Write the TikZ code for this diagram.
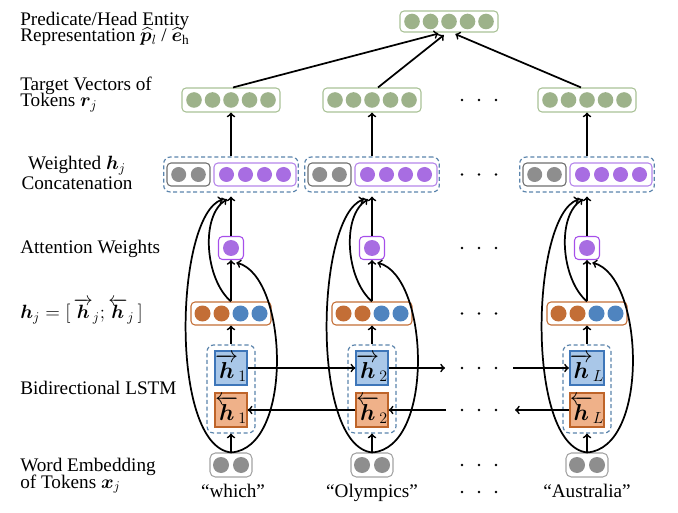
\documentclass[tikz,border=0pt]{standalone}
\usepackage{amsmath,bm}
\usepackage{fontspec}
\setmainfont{Liberation Serif}
\definecolor{dotgreen}{HTML}{9DB28A}
\definecolor{boxgreen}{HTML}{A9C196}
\definecolor{dotgray}{HTML}{8E8E8E}
\definecolor{boxgray}{HTML}{6E6E6E}
\definecolor{boxlgray}{HTML}{A3A3A3}
\definecolor{dotpurple}{HTML}{A86DE2}
\definecolor{boxpurple}{HTML}{B585EA}
\definecolor{attpurple}{HTML}{A64FEA}
\definecolor{dotorange}{HTML}{C36E36}
\definecolor{dotblue}{HTML}{4F84BF}
\definecolor{fwfill}{HTML}{A9C7E8}
\definecolor{fwline}{HTML}{3E76B9}
\definecolor{bwfill}{HTML}{EFB189}
\definecolor{bwline}{HTML}{BE6429}
\definecolor{dashblue}{HTML}{5B84AC}
\tikzset{
  lab/.style={inner sep=0pt, font={\fontsize{14.4}{12.2}\selectfont\lineskiplimit=-20pt}},
  vbox/.style={draw, rounded corners=3pt, line width=0.8pt, inner sep=0pt},
  grp/.style={draw=dashblue, dash pattern=on 3pt off 2pt, rounded corners=5pt, line width=0.9pt, inner sep=0pt},
  hbox/.style={draw, line width=1.4pt, inner sep=0pt, minimum width=20pt, minimum height=25.5pt, font=\fontsize{17.28}{17.28}\selectfont},
  arr/.style={->, line width=1.3pt},
}
\begin{document}
\begin{tikzpicture}[x=0.75pt, y=-0.75pt]
\useasboundingbox (0,0) rectangle (678,513);
% row labels
\node[lab, anchor=base west, align=left] (lrep) at (20,42) {Predicate/Head Entity\\Representation $\widehat{\bm p}_l$ / $\widehat{\bm e}_\mathrm{h}$};
\node[lab, anchor=base west, align=left] (ltgt) at (20,107) {Target Vectors of\\Tokens $\bm r_j$};
\node[lab, anchor=base, align=center] (lcat) at (77,190) {Weighted $\bm h_j$\\[3pt]Concatenation};
\node[lab, anchor=base west] (latt) at (20,254) {Attention Weights};
\node[lab, anchor=base west] (lhj) at (20,319) {$\bm h_j = [\,\overrightarrow{\bm h}_j;\overleftarrow{\bm h}_j\,]$};
\node[lab, anchor=base west] (llstm) at (20,394) {Bidirectional LSTM};
\node[lab, anchor=base west, align=left] (lemb) at (20,488) {Word Embedding\\of Tokens $\bm x_j$};
% output vector
\node[vbox, draw=boxgreen, minimum width=73.5pt, minimum height=15.75pt] (rep) at (449,21.5) {};
\foreach \k in {-2,...,2} \fill[dotgreen] ({449+\k*18.5},21.5) circle (7.8);
% one column per token
\foreach \c/\n/\s in {231/1/1, 372/2/2, 587/3/L}
  {\node[vbox, draw=boxgreen, minimum width=73.5pt, minimum height=18pt] (tgt\n) at (\c,100) {};
   \foreach \k in {-2,...,2} \fill[dotgreen] ({\c+\k*18.5},100) circle (7.8);
   \node[grp, minimum width=101pt, minimum height=26.25pt] (cat\n) at (\c,174.5) {};
   \node[vbox, draw=boxgray, minimum width=32.25pt, minimum height=17.25pt] (catg\n) at ({\c-42.5},174.5) {};
   \node[vbox, draw=boxpurple, minimum width=61.5pt, minimum height=17.25pt] (catp\n) at ({\c+24},174.5) {};
   \foreach \k in {-1,1} \fill[dotgray] ({\c-42.5+\k*9.8},174.5) circle (7.5);
   \foreach \k in {-3,-1,1,3} \fill[dotpurple] ({\c+24+\k*9.5},174.5) circle (7.5);
   \node[vbox, draw=attpurple, minimum width=18.75pt, minimum height=17.25pt] (att\n) at (\c,248) {};
   \fill[dotpurple] (\c,248) circle (8);
   \node[vbox, draw=dotorange, minimum width=60pt, minimum height=17.25pt] (hj\n) at (\c,313.5) {};
   \foreach \k in {-3,-1} \fill[dotorange] ({\c+\k*9.5},313.5) circle (8);
   \foreach \k in {1,3} \fill[dotblue] ({\c+\k*9.5},313.5) circle (8);
   \node[grp, minimum width=36pt, minimum height=66pt] (lstm\n) at (\c,389) {};
   \node[hbox, draw=fwline, fill=fwfill] (fw\n) at (\c,368) {$\overrightarrow{\bm h}_\s$};
   \node[hbox, draw=bwline, fill=bwfill] (bw\n) at (\c,410) {$\overleftarrow{\bm h}_\s$};
   \node[vbox, draw=boxlgray, rounded corners=4pt, minimum width=31.5pt, minimum height=18pt] (emb\n) at (\c,465) {};
   \foreach \k in {-1,1} \fill[dotgray] ({\c+\k*10},465) circle (8);
   \draw[arr] (emb\n) -- (lstm\n);
   \draw[arr] (lstm\n) -- (hj\n);
   \draw[arr] (hj\n) -- (att\n);
   \draw[arr, shorten >=3pt] (att\n) -- (cat\n);
   \draw[arr] (cat\n) -- (tgt\n);
   \draw[arr] (emb\n.north) .. controls +(-62,-7) and +(-48,16) .. ([xshift=-6pt,yshift=-5pt]cat\n.south);
   \draw[arr] (emb\n.north) .. controls +(63,-4) and +(52,13) .. ([xshift=4pt,yshift=-2pt]att\n.south);
   \draw[arr] (hj\n.north) .. controls +(-26,-22) and +(-27,16) .. ([xshift=-3pt,yshift=-5pt]cat\n.south);};
\foreach \c/\w in {233/which, 372/Olympics, 587/Australia}
  \node[lab, anchor=base] (w\w) at (\c,497) {“\w”};
% recurrent links
\coordinate (fwgo) at (445,368);
\coordinate (fwin) at (513,368);
\coordinate (bwin) at (446,410);
\coordinate (bwgo) at (515,410);
\draw[arr] (fw1) -- (fw2);
\draw[arr] (fw2) -- (fwgo);
\draw[arr] (fwin) -- (fw3);
\draw[arr] (bw2) -- (bw1);
\draw[arr] (bwin) -- (bw2);
\draw[arr] (bw3) -- (bwgo);
% pooling into the output vector
\draw[arr, shorten >=3pt] ([xshift=1.5pt]tgt1.north) -- ([xshift=-5pt]rep.south);
\draw[arr, shorten >=3pt] ([xshift=4.5pt]tgt2.north) -- ([xshift=-1.5pt]rep.south);
\draw[arr, shorten >=3pt] ([xshift=-4.5pt]tgt3.north) -- ([xshift=2pt]rep.south);
% ellipsis dots
\foreach \y in {100,174.5,248,313.5,368,410,465,492}
  \foreach \x in {462,479,496} \fill (\x,\y) circle (1.3);
\end{tikzpicture}
\end{document}
